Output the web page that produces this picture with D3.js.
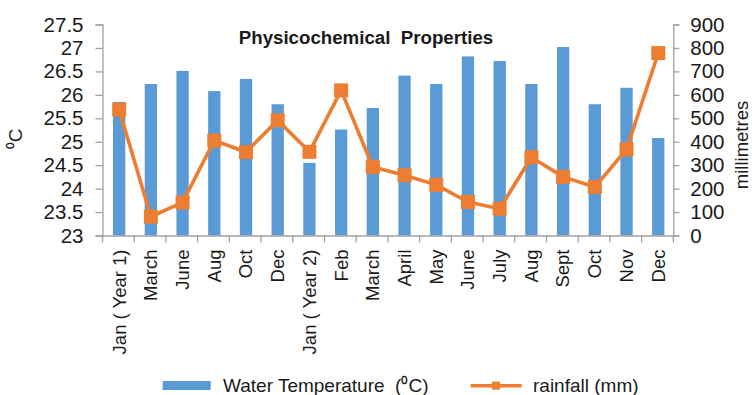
<!DOCTYPE html>
<html>
<head>
<meta charset="utf-8">
<script src="https://cdn.jsdelivr.net/npm/d3@7/dist/d3.min.js"></script>
<style>
  html, body { margin: 0; padding: 0; background: #fff; }
  svg { display: block; }
  text { font-family: "Liberation Sans", Arial, sans-serif; fill: #1a1a1a; }
</style>
</head>
<body>
<svg id="chart" width="752" height="395"></svg>
<script>
// Sampling months across two years
const categories = ["Jan ( Year 1)", "March", "June", "Aug", "Oct", "Dec",
  "Jan ( Year 2)", "Feb", "March", "April", "May", "June", "July", "Aug",
  "Sept", "Oct", "Nov", "Dec"];
// Water temperature, degrees C (left axis)
const waterTemp = [25.85, 26.23, 26.51, 26.08, 26.34, 25.80, 24.55, 25.26, 25.72,
  26.41, 26.23, 26.82, 26.72, 26.23, 27.02, 25.80, 26.15, 25.08];
// Rainfall, mm (right axis)
const rainfall = [537, 80, 141, 405, 356, 491, 357, 619, 292, 257, 216, 143, 114,
  334, 250, 207, 367, 778];
const tempTicks = [23, 23.5, 24, 24.5, 25, 25.5, 26, 26.5, 27, 27.5];
const rainTicks = [0, 100, 200, 300, 400, 500, 600, 700, 800, 900];

const BLUE = "#5B9BD5", ORANGE = "#ED7D31", AXIS = "#a0a0a0";
const svg = d3.select("#chart");

const plotL = 102.5, plotR = 673.3, plotT = 24.5, plotB = 235.5;
const idx = categories.map((d, i) => i);
const x = d3.scaleBand().domain(idx).range([plotL, plotR]).padding(0);
const yL = d3.scaleLinear().domain([23, 27.5]).range([plotB, plotT]);
const yR = d3.scaleLinear().domain([0, 900]).range([plotB, plotT]);
const cx = i => x(i) + x.bandwidth() / 2 + 0.8;
const barW = 12.3;

// Temperature bars
svg.append("g").selectAll("rect").data(waterTemp).join("rect")
  .attr("x", (d, i) => cx(i) - barW / 2)
  .attr("width", barW)
  .attr("y", d => yL(d))
  .attr("height", d => plotB - yL(d))
  .attr("fill", BLUE);

// Left axis
const gL = svg.append("g").attr("transform", `translate(${plotL},0)`)
  .call(d3.axisLeft(yL).tickValues(tempTicks).tickSize(7).tickPadding(12).tickFormat(d3.format("")));
gL.select(".domain").attr("stroke", AXIS).attr("stroke-width", 1.3);
gL.selectAll(".tick line").attr("stroke", AXIS).attr("stroke-width", 1.3);
gL.selectAll("text").style("font-size", "20.5px").attr("fill", "#1a1a1a");

// Right axis
const gR = svg.append("g").attr("transform", `translate(${plotR},0)`)
  .call(d3.axisRight(yR).tickValues(rainTicks).tickSize(6).tickPadding(11));
gR.select(".domain").attr("stroke", AXIS).attr("stroke-width", 1.3);
gR.selectAll(".tick line").attr("stroke", AXIS).attr("stroke-width", 1.3);
gR.selectAll("text").style("font-size", "20.5px").attr("fill", "#1a1a1a");

// Bottom axis: category labels, ticks between categories
const gB = svg.append("g").attr("transform", `translate(0,${plotB})`)
  .call(d3.axisBottom(x).tickSize(0).tickFormat(i => categories[i]));
gB.select(".domain").attr("stroke", AXIS).attr("stroke-width", 1.3);
gB.selectAll(".tick text")
  .style("font-size", "18.5px").attr("fill", "#1a1a1a")
  .attr("text-anchor", "end")
  .attr("transform", "translate(0.5,0) rotate(-90)")
  .attr("x", -14).attr("y", 0).attr("dy", "0.36em");
const edges = idx.map(i => x(i)).concat([plotR]);
svg.append("g").selectAll("line").data(edges).join("line")
  .attr("x1", d => d).attr("x2", d => d)
  .attr("y1", plotB).attr("y2", plotB + 7)
  .attr("stroke", AXIS).attr("stroke-width", 1.3);

// Rainfall line with square markers
const line = d3.line().x((d, i) => cx(i)).y(d => yR(d));
svg.append("path").datum(rainfall)
  .attr("d", line).attr("fill", "none")
  .attr("stroke", ORANGE).attr("stroke-width", 3.6).attr("stroke-linejoin", "round");
const ms = 14;
svg.append("g").selectAll("rect").data(rainfall).join("rect")
  .attr("x", (d, i) => cx(i) - ms / 2).attr("y", d => yR(d) - ms / 2)
  .attr("width", ms).attr("height", ms).attr("fill", ORANGE);

// Title
svg.append("text").attr("x", 366).attr("y", 43.5).attr("text-anchor", "middle")
  .style("font-size", "18.7px").style("font-weight", "bold").style("white-space", "pre")
  .text("Physicochemical  Properties");

// Axis titles
svg.append("text").attr("transform", "translate(22,139) rotate(-90)")
  .attr("text-anchor", "middle").style("font-size", "19px").text("\u2070C");

svg.append("text").attr("transform", "translate(747.5,145) rotate(-90)")
  .attr("text-anchor", "middle").style("font-size", "18.5px").text("millimetres");

// Legend
const lg = svg.append("g");
lg.append("rect").attr("x", 162.7).attr("y", 381).attr("width", 48).attr("height", 9).attr("fill", BLUE);
lg.append("text").attr("x", 223).attr("y", 391.5).style("font-size", "19px").style("white-space", "pre")
  .text("Water Temperature  (\u2070C)");
lg.append("line").attr("x1", 470.7).attr("x2", 521.7).attr("y1", 385.7).attr("y2", 385.7)
  .attr("stroke", ORANGE).attr("stroke-width", 3.6);
lg.append("rect").attr("x", 492).attr("y", 381.7).attr("width", 8).attr("height", 8).attr("fill", ORANGE);
lg.append("text").attr("x", 533).attr("y", 391.5).style("font-size", "19px").text("rainfall (mm)");
</script>
</body>
</html>
